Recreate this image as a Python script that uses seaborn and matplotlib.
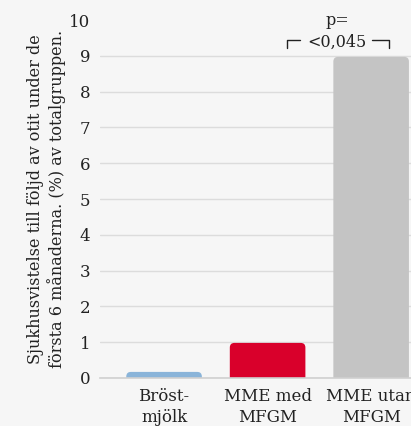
import pandas as pd
import matplotlib.pyplot as plt
import seaborn as sns
from matplotlib.patches import FancyBboxPatch

# data
categories = ["Bröst-\nmjölk", "MME med\nMFGM", "MME utan\nMFGM"]
values = [0.17, 0.98, 8.97]
colors = ["#8ab4d9", "#d9002b", "#c4c4c4"]
yticks = list(range(0, 11))
ylabel = ("Sjukhusvistelse till följd av otit under de\n"
          "första 6 månaderna. (%) av totalgruppen.")
p_label = "p="
p_value = "<0,045"

df = pd.DataFrame({"Grupp": categories, "Andel": values})

sns.set_style("white")
plt.rcParams['font.family'] = ['DejaVu Serif']

fig = plt.figure(figsize=(4.11, 4.26), dpi=100, facecolor="#f6f6f6")
ax = fig.add_axes([0.243, 0.1127, 0.757, 0.8403])
ax.set_facecolor("none")

sns.barplot(data=df, x="Grupp", y="Andel", hue="Grupp", palette=colors,
            width=0.73, legend=False, ax=ax, saturation=1)

ax.set_ylim(0, 10)
ax.set_xlim(-0.62, 2.385)

# swap the plain bars for ones with slightly rounded tops
for rect in list(ax.patches):
    x, w, h = rect.get_x(), rect.get_width(), rect.get_height()
    rounded = FancyBboxPatch((x, -0.2), w, h + 0.2,
                             boxstyle="round,pad=0,rounding_size=0.045",
                             mutation_aspect=2.89,
                             facecolor=rect.get_facecolor(),
                             edgecolor="none", zorder=rect.get_zorder())
    rect.remove()
    ax.add_patch(rounded)

ax.set_yticks(yticks)
ax.set_yticklabels([str(t) for t in yticks])
ax.tick_params(axis="y", length=0, pad=7, labelsize=12, colors="#222222")
ax.tick_params(axis="x", length=0, pad=7, labelsize=12, colors="#222222")
for lab in ax.get_xticklabels():
    lab.set_linespacing(1.3)
ax.set_xlabel("")
ax.set_ylabel(ylabel, fontsize=11.5, color="#222222", labelpad=2,
              linespacing=1.2)

ax.yaxis.grid(True, color="#dcdcdc", linewidth=1)
ax.set_axisbelow(True)
ax.get_ygridlines()[-1].set_visible(False)
for side in ["top", "right", "left"]:
    ax.spines[side].set_visible(False)
ax.spines["bottom"].set_color("#d0d0d0")
ax.spines["bottom"].set_linewidth(1.2)

# significance bracket
ax.text(1.67, 10.0, p_label, ha="center", va="center", fontsize=11.5,
        color="#222222", clip_on=False)
ax.text(1.67, 9.39, p_value, ha="center", va="center", fontsize=11.5,
        color="#222222", clip_on=False)
ax.plot([1.185, 1.185, 1.31], [9.22, 9.44, 9.44], color="#222222",
        linewidth=1, clip_on=False)
ax.plot([2.01, 2.17, 2.17], [9.44, 9.44, 9.22], color="#222222",
        linewidth=1, clip_on=False)

fig.savefig("out.png", dpi=100, facecolor=fig.get_facecolor())
